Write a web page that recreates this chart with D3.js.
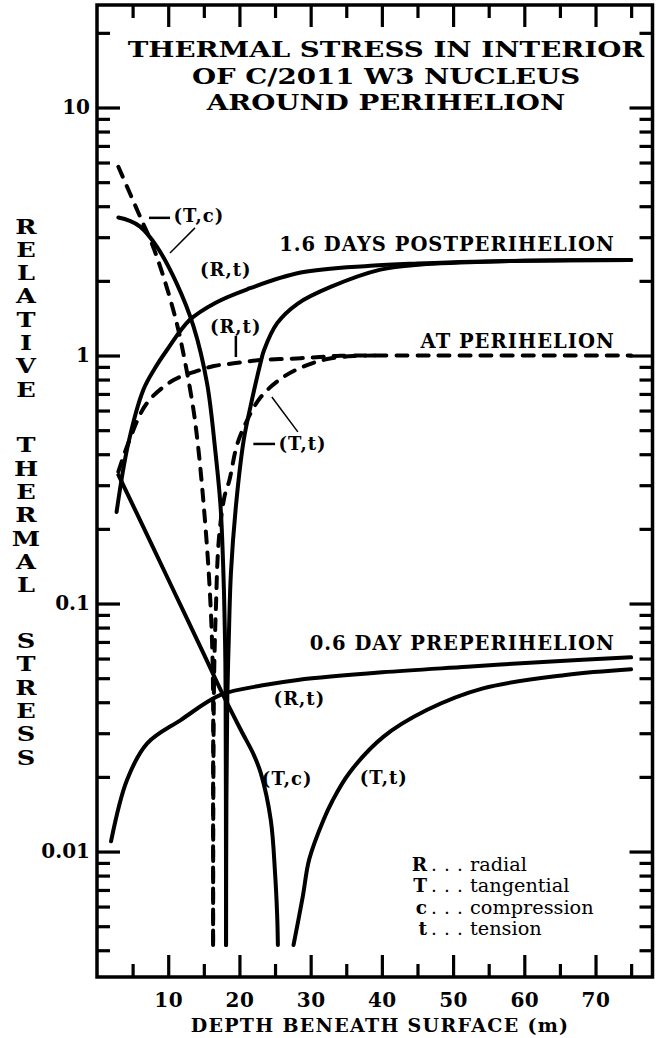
<!DOCTYPE html>
<html>
<head>
<meta charset="utf-8">
<script src="https://cdn.jsdelivr.net/npm/d3@7"></script>
<style>
  body { margin: 0; background: #fff; }
  svg { display: block; }
  text { font-family: "DejaVu Serif", serif; fill: #000; }
</style>
</head>
<body>
<div id="chart"></div>
<script>
// depth beneath surface (m), relative thermal stress
// 1.6 days postperihelion (solid)
const postTc = [[3.0,3.6],[4.5,3.5],[6.05,3.31],[8.4,2.75],[11.2,1.95],[13.55,1.31],[15.45,0.773],[16.6,0.416],[17.35,0.246],[17.75,0.132],[17.98,0.071],[18.06,0.042],[18.1,0.016],[18.12,0.0042]];
const postTt = [[18.12,0.0042],[18.17,0.016],[18.3,0.042],[18.5,0.071],[18.8,0.132],[19.5,0.246],[20.6,0.456],[21.55,0.622],[22.95,0.93],[23.45,1.05],[25.3,1.35],[28.2,1.62],[32.8,1.89],[39.8,2.22],[45.5,2.33],[51,2.37],[60,2.41],[75,2.43]];
const postRt = [[2.75,0.234],[4.35,0.436],[6.5,0.726],[8.15,0.89],[9.8,1.05],[13.0,1.39],[16.6,1.63],[21.1,1.85],[28.6,2.16],[38.4,2.30],[45,2.35],[51,2.38],[60,2.41],[75,2.43]];
// at perihelion (dashed)
const periTc = [[3.0,5.77],[6.05,3.63],[7.7,2.83],[9.33,2.08],[11.2,1.35],[12.4,0.93],[13.55,0.603],[14.25,0.416],[15.0,0.246],[15.7,0.132],[16.15,0.071],[16.3,0.042],[16.3,0.016],[16.3,0.0042]];
const periTt = [[16.3,0.0042],[16.33,0.016],[16.45,0.052],[16.7,0.097],[17.1,0.18],[17.9,0.27],[18.6,0.315],[19.6,0.43],[20.7,0.52],[23.0,0.68],[26.2,0.82],[29.5,0.915],[32.5,0.97],[36,0.995],[39,1.0]];
const periRt = [[3.0,0.34],[4.4,0.444],[7.0,0.642],[10.75,0.796],[14.5,0.874],[16.4,0.907],[19.2,0.93],[23.0,0.959],[28.6,0.975],[31.9,0.989],[34.2,0.998],[45,1.0],[75,1.0]];
// 0.6 day preperihelion (solid)
const preRt = [[1.97,0.011],[4.2,0.0194],[7.05,0.0273],[11.75,0.0339],[17.35,0.0428],[23.5,0.0469],[28.2,0.0492],[40,0.0528],[52,0.0556],[62,0.058],[75,0.0607]];
const preTc = [[3.0,0.33],[7.0,0.19],[11.0,0.109],[15.0,0.0625],[17.6,0.0434],[20.2,0.0309],[22.0,0.0246],[23.0,0.0207],[24.4,0.0134],[25.0,0.0082],[25.3,0.0055],[25.4,0.0042]];
const preTt = [[27.6,0.0042],[28.9,0.0066],[29.8,0.0093],[31.8,0.0134],[33.1,0.0161],[35.4,0.0207],[40.2,0.029],[46.3,0.0372],[54.2,0.0455],[65.8,0.0515],[75,0.0543]];

const xTicksMajor = [10, 20, 30, 40, 50, 60, 70];
const xTicksMinor = [5, 15, 25, 35, 45, 55, 65, 75];
const yTicksMajor = [0.01, 0.1, 1, 10];
const yTickLabels = ['0.01', '0.1', '1', '10'];

const titleLines = ['THERMAL STRESS IN INTERIOR', 'OF C/2011 W3 NUCLEUS', 'AROUND PERIHELION'];
const yTitleWords = ['RELATIVE', 'THERMAL', 'STRESS'];
const xTitle = 'DEPTH BENEATH SURFACE (m)';
const legendKeys = ['R', 'T', 'c', 't'];
const legendWords = ['radial', 'tangential', 'compression', 'tension'];

const W = 668, H = 1038;
const frame = {left: 97, right: 652.5, top: 5, bottom: 977};

const svg = d3.select('#chart').append('svg')
    .attr('width', W)
    .attr('height', H);

const x = d3.scaleLinear().domain([0, 78]).range([frame.left, frame.right]);
const y = d3.scaleLog().domain([0.00312, 25.9]).range([frame.bottom, frame.top]);

// minor log ticks 2..9 per decade, inside the frame
const yTicksMinor = [0.001, 0.01, 0.1, 1, 10]
    .flatMap(d => d3.range(2, 10).map(k => +(d * k).toPrecision(3)))
    .filter(v => v > y.domain()[0] && v < y.domain()[1]);

// axes: ticks point inward on all four sides
function axisGroup(axis, tx, ty){
    const g = svg.append('g')
        .attr('transform', `translate(${tx},${ty})`)
        .call(axis);
    g.select('.domain').remove();
    g.selectAll('.tick line').attr('stroke', '#000').attr('stroke-width', 3.2);
    return g;
}

axisGroup(d3.axisBottom(x).tickValues(xTicksMajor).tickSize(-22).tickPadding(16), 0, frame.bottom)
    .selectAll('text')
    .attr('font-family', '"DejaVu Serif", serif')
    .attr('font-weight', 'bold')
    .attr('font-size', 20)
    .attr('letter-spacing', 0.5);
axisGroup(d3.axisBottom(x).tickValues(xTicksMinor).tickSize(-13).tickFormat(''), 0, frame.bottom);
axisGroup(d3.axisTop(x).tickValues(xTicksMajor).tickSize(-22).tickFormat(''), 0, frame.top);
axisGroup(d3.axisTop(x).tickValues(xTicksMinor).tickSize(-13).tickFormat(''), 0, frame.top);

axisGroup(d3.axisLeft(y).tickValues(yTicksMajor).tickSize(-23).tickPadding(7)
        .tickFormat((d, i) => yTickLabels[i]), frame.left, 0)
    .selectAll('text')
    .attr('font-family', '"DejaVu Serif", serif')
    .attr('font-weight', 'bold')
    .attr('font-size', 20);
axisGroup(d3.axisLeft(y).tickValues(yTicksMinor).tickSize(-13).tickFormat(''), frame.left, 0);
axisGroup(d3.axisRight(y).tickValues(yTicksMajor).tickSize(-23).tickFormat(''), frame.right, 0);
axisGroup(d3.axisRight(y).tickValues(yTicksMinor).tickSize(-13).tickFormat(''), frame.right, 0);

// frame
svg.append('rect')
    .attr('x', frame.left).attr('y', frame.top)
    .attr('width', frame.right - frame.left)
    .attr('height', frame.bottom - frame.top)
    .attr('fill', 'none')
    .attr('stroke', '#000')
    .attr('stroke-width', 3.5);

// curves
const line = d3.line()
    .x(d => x(d[0]))
    .y(d => y(d[1]))
    .curve(d3.curveCatmullRom.alpha(0.5));

const series = [
    {data: postTc, dashed: false}, {data: postTt, dashed: false}, {data: postRt, dashed: false},
    {data: periTc, dashed: true}, {data: periTt, dashed: true}, {data: periRt, dashed: true},
    {data: preRt, dashed: false}, {data: preTc, dashed: false}, {data: preTt, dashed: false}
];

svg.append('g').selectAll('path')
    .data(series)
    .join('path')
    .attr('d', d => line(d.data))
    .attr('fill', 'none')
    .attr('stroke', '#000')
    .attr('stroke-width', 4)
    .attr('stroke-linecap', 'round')
    .attr('stroke-linejoin', 'round')
    .attr('stroke-dasharray', d => d.dashed ? '11,10' : null);

// curve labels (anchor in data units)
const curveLabels = [
    {text: '1.6 DAYS POSTPERIHELION', at: [72.7, 2.64], anchor: 'end'},
    {text: 'AT PERIHELION', at: [72.7, 1.072], anchor: 'end'},
    {text: '0.6 DAY PREPERIHELION', at: [72.7, 0.0649], anchor: 'end'},
    {text: '(T,c)', at: [10.75, 3.45], anchor: 'start'},
    {text: '(R,t)', at: [14.45, 2.09], anchor: 'start'},
    {text: '(R,t)', at: [15.85, 1.23], anchor: 'start'},
    {text: '(T,t)', at: [25.5, 0.416], anchor: 'start'},
    {text: '(R,t)', at: [24.8, 0.039], anchor: 'start'},
    {text: '(T,c)', at: [23.15, 0.0185], anchor: 'start'},
    {text: '(T,t)', at: [36.9, 0.0187], anchor: 'start'}
];

svg.append('g').selectAll('text')
    .data(curveLabels)
    .join('text')
    .attr('x', d => x(d.at[0]))
    .attr('y', d => y(d.at[1]))
    .attr('text-anchor', d => d.anchor)
    .attr('font-weight', 'bold')
    .attr('font-size', d => d.text.startsWith('(') ? 18 : 19.5)
    .attr('letter-spacing', 1)
    .text(d => d.text);

// leader lines from labels to curves
const leaders = [
    {from: [7.3, 3.59], to: [10.25, 3.59], w: 2.5},
    {from: [13.76, 3.27], to: [10.25, 2.59], w: 1.5},
    {from: [19.5, 1.20], to: [19.5, 0.986], w: 2.5},
    {from: [21.95, 0.44], to: [25.0, 0.44], w: 2.5},
    {from: [24.55, 0.68], to: [28.2, 0.492], w: 1.5}
];

svg.append('g').selectAll('line')
    .data(leaders)
    .join('line')
    .attr('x1', d => x(d.from[0])).attr('y1', d => y(d.from[1]))
    .attr('x2', d => x(d.to[0])).attr('y2', d => y(d.to[1]))
    .attr('stroke', '#000')
    .attr('stroke-width', d => d.w);

// title: bold serif, stretched horizontally like an extended face
svg.append('g').selectAll('text')
    .data(titleLines)
    .join('text')
    .attr('transform', (d, i) => `translate(386,${57 + i * 26.5}) scale(1.23,1)`)
    .attr('text-anchor', 'middle')
    .attr('font-weight', 'bold')
    .attr('font-size', 22.5)
    .text(d => d);

// vertical y title, one letter per line
const step = 23.3, gap = 55.8;
const yLetters = [];
let pos = 226;
yTitleWords.forEach((w, wi) => {
    if(wi > 0) pos += gap - step;
    w.split('').forEach(ch => { yLetters.push({ch, pos}); pos += step; });
});
svg.append('g').selectAll('text')
    .data(yLetters)
    .join('text')
    .attr('transform', d => `translate(26,${d.pos + 7.5}) scale(1.25,1)`)
    .attr('text-anchor', 'middle')
    .attr('font-weight', 'bold')
    .attr('font-size', 20.5)
    .text(d => d.ch);

// x title
svg.append('text')
    .attr('x', 380)
    .attr('y', 1032)
    .attr('text-anchor', 'middle')
    .attr('font-weight', 'bold')
    .attr('font-size', 19)
    .attr('letter-spacing', 1.3)
    .text(xTitle);

// legend
const legend = svg.append('g').attr('transform', 'translate(427,871)');
const rows = legend.selectAll('g')
    .data(legendKeys)
    .join('g')
    .attr('transform', (d, i) => `translate(0,${i * 21.4})`);
rows.append('text')
    .attr('text-anchor', 'end')
    .attr('font-weight', 'bold')
    .attr('font-size', 18.5)
    .text(d => d);
rows.append('text')
    .attr('x', 4)
    .attr('font-size', 18.5)
    .attr('letter-spacing', 0.6)
    .text('. . .');
rows.append('text')
    .attr('x', 43)
    .attr('font-size', 19.3)
    .text((d, i) => legendWords[i]);
</script>
</body>
</html>
